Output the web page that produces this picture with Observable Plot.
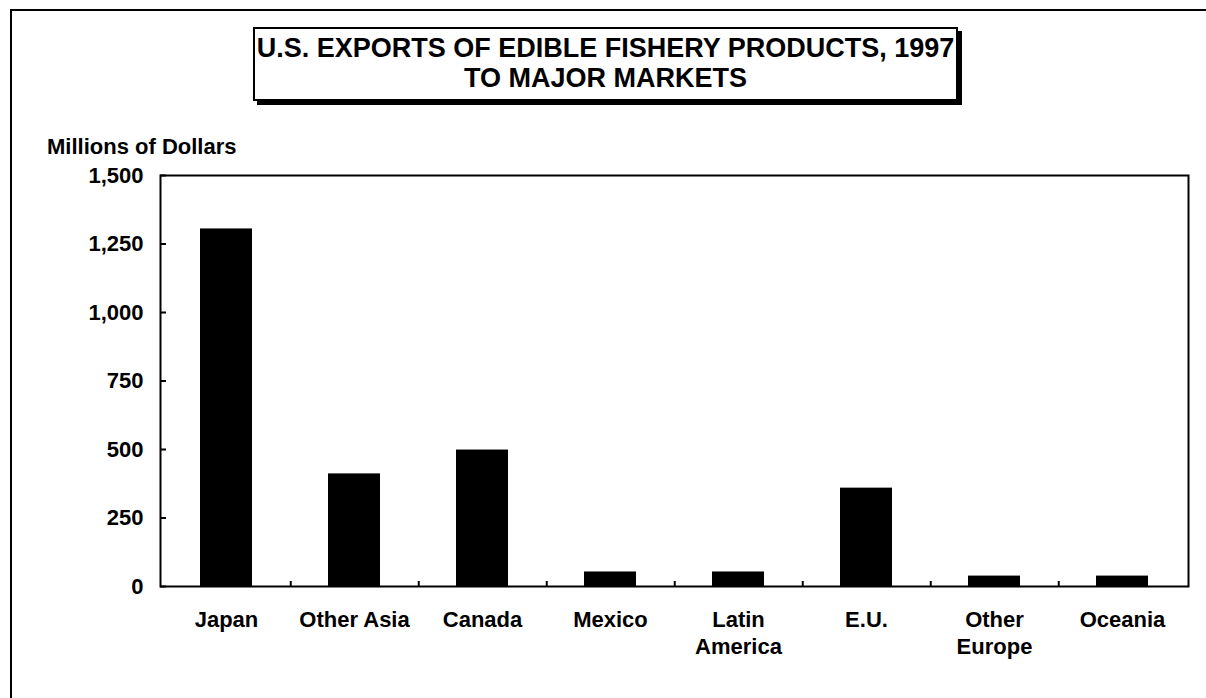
<!DOCTYPE html>
<html>
<head>
<meta charset="utf-8">
<script src="https://cdn.jsdelivr.net/npm/d3@7"></script>
<script src="https://cdn.jsdelivr.net/npm/@observablehq/plot@0.6"></script>
<style>
  html, body { margin: 0; padding: 0; background: #fff; }
  #wrap { position: relative; width: 1206px; height: 698px; overflow: hidden;
          font-family: "Liberation Sans", Arial, Helvetica, sans-serif; font-weight: bold; color: #000; }
  #outer { position: absolute; left: 10px; top: 9px; width: 1300px; height: 800px;
           border-top: 2px solid #000; border-left: 2px solid #000; }
  #titlebox { position: absolute; left: 253px; top: 27px; width: 701px; height: 66px;
              border: 2px solid #000; box-shadow: 4px 4px 0 #000; background: #fff;
              text-align: center; font-size: 27px; line-height: 30px; padding-top: 4px; }
  #ylabel { position: absolute; left: 47px; top: 134px; font-size: 22px; }
  #chart { position: absolute; left: 0; top: 0; }
</style>
</head>
<body>
<div id="wrap">
  <div id="outer"></div>
  <div id="chart"></div>
  <div id="titlebox"><div>U.S. EXPORTS OF EDIBLE FISHERY PRODUCTS, 1997</div><div>TO MAJOR MARKETS</div></div>
  <div id="ylabel">Millions of Dollars</div>
</div>
<script>
const categories = ["Japan", "Other Asia", "Canada", "Mexico", "Latin\nAmerica", "E.U.", "Other\nEurope", "Oceania"];
const values = [1305, 411, 498, 53, 53, 359, 38, 38];
const yTicks = [0, 250, 500, 750, 1000, 1250, 1500];

const data = categories.map((c, i) => ({category: c, value: values[i]}));

const W = 1206, H = 698, ML = 160, MR = 18, MT = 175, MB = 112;
const step = (W - ML - MR) / categories.length;

const chart = Plot.plot({
  width: W,
  height: H,
  marginLeft: ML,
  marginRight: MR,
  marginTop: MT,
  marginBottom: MB,
  style: {fontFamily: '"Liberation Sans", Arial, sans-serif', fontWeight: "bold", fontSize: "22px", color: "#000", background: "transparent"},
  x: {domain: categories, paddingInner: 0.59, paddingOuter: 0.295, label: null},
  y: {domain: [0, 1500], label: null},
  marks: [
    Plot.barY(data, {x: "category", y: "value", fill: "#000"}),
    Plot.frame({stroke: "#000", strokeWidth: 2}),
    Plot.axisY({ticks: yTicks, tickSize: -6, text: null, strokeWidth: 2, label: null}),
    Plot.axisY({ticks: yTicks, tickSize: 0, tickPadding: 17, tickFormat: d3.format(","), fontSize: 22, fill: "#000", label: null}),
    Plot.axisX({ticks: categories.slice(0, -1), tickSize: -5, text: null, dx: step / 2, strokeWidth: 2, label: null}),
    Plot.axisX({tickSize: 0, tickPadding: 22, fontSize: 22, fill: "#000", lineHeight: 1.2, label: null})
  ]
});
document.getElementById("chart").appendChild(chart);
</script>
</body>
</html>
